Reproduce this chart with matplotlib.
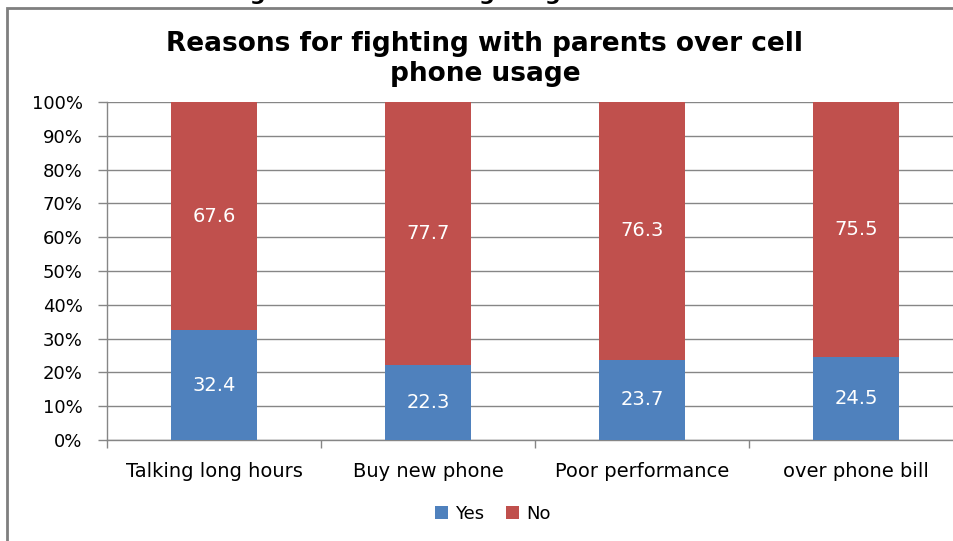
import matplotlib.pyplot as plt
import numpy as np
from matplotlib.patches import Rectangle

reasons = ['Talking long hours', 'Buy new phone', 'Poor performance', 'over phone bill']
yes = [32.4, 22.3, 23.7, 24.5]
no = [67.6, 77.7, 76.3, 75.5]

blue = '#4F81BD'
red = '#C0504D'
grey = '#868686'

fig = plt.figure(figsize=(9.54, 5.41), dpi=100)
W, H = 954, 541

# outer chart frame (runs off the right/bottom of the picture)
fig.patches.append(Rectangle((7 / W, -0.1), 1.2, 1 - 8 / H + 0.1, transform=fig.transFigure,
                             fill=False, edgecolor='#7f7f7f', linewidth=2))

# caption of the source document, cut off at the top
fig.text(477 / W, 1 - 0.5 / H, 'Fig 3: Reasons for fighting with Parents', ha='center',
         va='baseline', fontsize=16, fontweight='bold')

ax = fig.add_axes([107 / W, 1 - 440 / H, 856 / W, 338 / H])
x = np.arange(len(reasons))
b1 = ax.bar(x, yes, width=0.4, color=blue, label='Yes', zorder=3)
b2 = ax.bar(x, no, width=0.4, bottom=yes, color=red, label='No', zorder=3)

for i in range(len(reasons)):
    ax.text(x[i], yes[i] / 2, '%.1f' % yes[i], ha='center', va='center', color='white', fontsize=14, zorder=4)
    ax.text(x[i], yes[i] + no[i] / 2, '%.1f' % no[i], ha='center', va='center', color='white', fontsize=14, zorder=4)

ax.set_xlim(-0.5, 3.5)
ax.set_ylim(0, 100)
ax.set_yticks(np.arange(0, 101, 10))
ax.set_yticklabels(['%d%%' % v for v in range(0, 101, 10)], fontsize=13)
ax.set_xticks(x)
ax.set_xticklabels(reasons, fontsize=14)
ax.set_xticks(np.arange(-0.5, 3.5, 1), minor=True)
ax.tick_params(axis='x', which='major', length=0, pad=16)
ax.tick_params(axis='x', which='minor', length=6, color=grey, width=1)
ax.tick_params(axis='y', length=6.5, color=grey, width=1, pad=11)
ax.yaxis.grid(True, color=grey, linewidth=1, zorder=0)
for s in ['top', 'right']:
    ax.spines[s].set_visible(False)
for s in ['left', 'bottom']:
    ax.spines[s].set_color(grey)
    ax.spines[s].set_linewidth(1)

fig.text(485 / W, 1 - 59 / H, 'Reasons for fighting with parents over cell\nphone usage',
         ha='center', va='center', fontsize=19, fontweight='bold', linespacing=1.2)

fig.legend(handles=[b1, b2], labels=['Yes', 'No'], loc='center', bbox_to_anchor=(493 / W, 1 - 514 / H),
           ncol=2, frameon=False, fontsize=13, handlelength=0.7, handleheight=0.7,
           handletextpad=0.4, columnspacing=1.2)

fig.savefig('out.png', dpi=100)
